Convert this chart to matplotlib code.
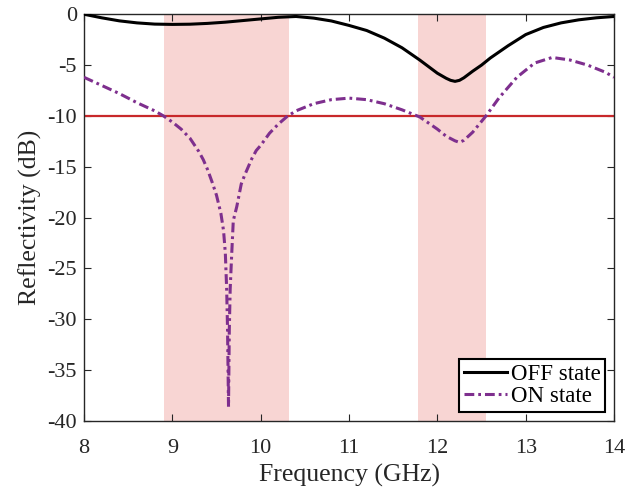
import matplotlib
matplotlib.use("Agg")
import matplotlib.pyplot as plt

plt.rcParams['font.family'] = ['Liberation Serif', 'DejaVu Serif']
plt.rcParams['axes.unicode_minus'] = False

# Data
off_freq = [8.0, 8.2, 8.4, 8.6, 8.8, 9.0, 9.2, 9.4, 9.6, 9.8, 10.0, 10.2, 10.4,
            10.6, 10.8, 11.0, 11.2, 11.4, 11.6, 11.8, 11.9, 12.0, 12.1, 12.15,
            12.2, 12.25, 12.3, 12.4, 12.5, 12.6, 12.8, 13.0, 13.2, 13.4, 13.6,
            13.8, 14.0]
off_db = [0.0, -0.35, -0.65, -0.85, -0.97, -1.0, -0.98, -0.9, -0.78, -0.62,
          -0.46, -0.3, -0.22, -0.38, -0.66, -1.1, -1.6, -2.35, -3.3, -4.5,
          -5.15, -5.8, -6.3, -6.5, -6.6, -6.5, -6.25, -5.6, -5.0, -4.3, -3.1,
          -2.0, -1.3, -0.85, -0.55, -0.35, -0.22]

on_freq = [8.0, 8.2, 8.4, 8.6, 8.8, 8.9, 9.0, 9.1, 9.2, 9.3, 9.35, 9.4, 9.45,
           9.5, 9.55, 9.58, 9.6, 9.615, 9.625, 9.636, 9.645, 9.655, 9.67, 9.69,
           9.73, 9.78, 9.82, 9.9, 9.95, 10.0, 10.1, 10.2, 10.3, 10.4, 10.6,
           10.8, 11.0, 11.2, 11.4, 11.6, 11.8, 12.0, 12.1, 12.2, 12.25, 12.3,
           12.4, 12.55, 12.7, 12.9, 13.1, 13.3, 13.5, 13.7, 13.9, 14.0]
on_db = [-6.2, -7.0, -7.8, -8.7, -9.5, -10.0, -10.6, -11.3, -12.2, -13.5,
         -14.3, -15.3, -16.5, -17.8, -19.6, -21.3, -23.5, -27.0, -31.0, -38.6,
         -31.0, -27.0, -24.0, -20.3, -18.9, -16.7, -15.8, -14.2, -13.4, -12.9,
         -11.7, -10.8, -10.05, -9.5, -8.8, -8.4, -8.25, -8.4, -8.8, -9.4,
         -10.1, -11.3, -12.0, -12.45, -12.6, -12.4, -11.6, -10.0, -8.2, -6.2,
         -4.8, -4.25, -4.5, -5.0, -5.7, -6.2]

bands = [(8.91, 10.315), (11.78, 12.55)]
threshold_db = -10
x_ticks = [8, 9, 10, 11, 12, 13, 14]
y_ticks = [0, -5, -10, -15, -20, -25, -30, -35, -40]

fig = plt.figure(figsize=(6.41, 4.91), dpi=100)
ax = fig.add_axes([0.131, 0.1426, 0.827, 0.8284])

for lo, hi in bands:
    ax.axvspan(lo, hi, color='#f8d5d3', lw=0, zorder=0)

ax.axhline(threshold_db, color='#c8282a', lw=1.6, zorder=2)
ax.plot(off_freq, off_db, color='black', lw=2.2, label='OFF state', zorder=3)
ax.plot(on_freq, on_db, color='#7e2f8e', lw=2.2, label='ON state', zorder=3,
        dashes=(3.2, 1.3, 0.9, 1.3))

ax.set_xlim(8, 14)
ax.set_ylim(-40, 0)
ax.set_xticks(x_ticks)
ax.set_yticks(y_ticks)
ax.tick_params(direction='in', length=5, width=0.8, top=True, right=True,
               labelsize=16, colors='#262626')
ax.tick_params(axis='x', pad=13)
ax.tick_params(axis='y', pad=5)
for s in ax.spines.values():
    s.set_color('#262626')
    s.set_linewidth(1.0)
ax.set_xlabel('Frequency (GHz)', fontsize=18.5, color='#262626', labelpad=4)
ax.set_ylabel('Reflectivity (dB)', fontsize=18.5, color='#262626', labelpad=4)

leg = ax.legend(loc='lower right', fontsize=16.5, frameon=True, fancybox=False,
                edgecolor='black', framealpha=1, handlelength=1.9,
                handletextpad=0.15, borderpad=0.2, labelspacing=0.05,
                borderaxespad=0.4)
leg.get_frame().set_linewidth(1.5)
for t in leg.get_texts():
    t.set_color('black')

fig.savefig('out.png', dpi=100)
